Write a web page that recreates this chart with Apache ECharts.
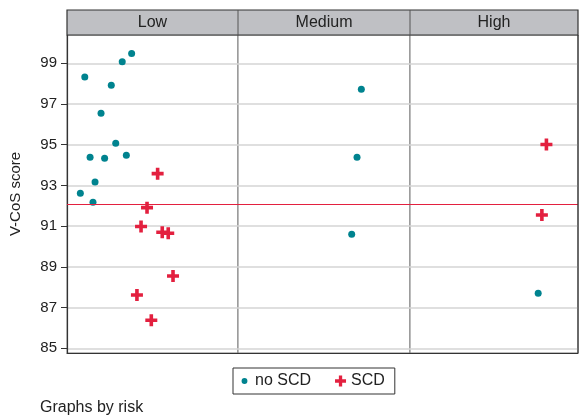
<!DOCTYPE html>
<html>
<head>
<meta charset="utf-8">
<script src="https://cdn.jsdelivr.net/npm/echarts@6/dist/echarts.min.js"></script>
<style>html,body{margin:0;padding:0;background:#fff}#c{width:579px;height:418px}</style>
</head>
<body>
<div id="c"></div>
<script>
const panels = ['Low', 'Medium', 'High'];
const yTicks = [85, 87, 89, 91, 93, 95, 97, 99];
const refLine = 92.08;

const lowNoScdX = [0.104, 0.378, 0.323, 0.259, 0.199, 0.285, 0.135, 0.220, 0.347, 0.164, 0.078, 0.152];
const lowNoScdY = [98.33, 99.48, 99.08, 97.92, 96.55, 95.07, 94.39, 94.34, 94.48, 93.17, 92.62, 92.17];
const lowScdX = [0.530, 0.468, 0.433, 0.557, 0.592, 0.620, 0.409, 0.493];
const lowScdY = [93.58, 91.91, 90.98, 90.70, 90.65, 88.55, 87.62, 86.38];
const medNoScdX = [0.717, 0.692, 0.661];
const medNoScdY = [97.73, 94.39, 90.60];
const medScdX = [];
const medScdY = [];
const highNoScdX = [0.763];
const highNoScdY = [87.70];
const highScdX = [0.812, 0.785];
const highScdY = [95.01, 91.55];

const noScd = [[lowNoScdX, lowNoScdY], [medNoScdX, medNoScdY], [highNoScdX, highNoScdY]];
const scd = [[lowScdX, lowScdY], [medScdX, medScdY], [highScdX, highScdY]];

const FONT = 'Liberation Sans, Arial, sans-serif';
const TEAL = '#00838f';
const RED = '#e3203f';
const PLUS = 'path://M4.2,0 H7.8 V4.2 H12 V7.8 H7.8 V12 H4.2 V7.8 H0 V4.2 H4.2 Z';
const SMALL_DOT = 'path://M0,0 L0.01,0 M12,12 L11.99,12 M6,2.8 A3.2,3.2 0 1 1 5.99,2.8 Z';

const gridPos = [
  {left: 67, width: 171},
  {left: 238, width: 172},
  {left: 410, width: 168}
];
const plotTop = 35, plotBottom = 353;

const zip = (xs, ys) => xs.map((x, i) => [x, ys[i]]);

const grids = [], xAxes = [], yAxes = [], series = [];
gridPos.forEach((g, i) => {
  grids.push({left: g.left, width: g.width, top: plotTop, height: plotBottom - plotTop,
    show: true, borderColor: '#7a7a7a', borderWidth: 1, backgroundColor: '#fff'});
  xAxes.push({type: 'value', gridIndex: i, min: 0, max: 1, show: true,
    axisLine: {show: true, lineStyle: {color: '#333', width: 1.2}},
    axisTick: {show: false}, axisLabel: {show: false}, splitLine: {show: false}});
  yAxes.push({type: 'value', gridIndex: i, min: 84.77, max: 100.39,
    axisLine: {show: i === 0, lineStyle: {color: '#333', width: 1.2}},
    axisTick: {show: i === 0, length: 6, inside: false, customValues: yTicks, lineStyle: {color: '#333'}},
    axisLabel: {show: i === 0, customValues: yTicks, color: '#222', fontSize: 15, fontFamily: FONT, margin: 10},
    splitLine: {show: true, lineStyle: {color: '#d4d4d4', width: 1.5}},
    name: i === 0 ? 'V-CoS score' : '', nameLocation: 'middle', nameGap: 44,
    nameTextStyle: {color: '#222', fontSize: 15, fontFamily: FONT}
  });
  series.push({
    name: 'no SCD', type: 'scatter', xAxisIndex: i, yAxisIndex: i,
    data: zip(noScd[i][0], noScd[i][1]),
    symbol: 'circle', symbolSize: 7, itemStyle: {color: TEAL, opacity: 1},
    markLine: {silent: true, symbol: 'none', label: {show: false},
      lineStyle: {color: RED, width: 1.2, type: 'solid', opacity: 1}, data: [{yAxis: refLine}]},
    z: 3
  });
  series.push({
    name: 'SCD', type: 'scatter', xAxisIndex: i, yAxisIndex: i,
    data: zip(scd[i][0], scd[i][1]),
    symbol: PLUS, symbolSize: 12, itemStyle: {color: RED, opacity: 1}, z: 3
  });
});

const graphics = [
  {type: 'rect', shape: {x: 67, y: 10, width: 511, height: 25},
   style: {fill: '#bfc0c4', stroke: '#333', lineWidth: 1.2}, z: 10},
  {type: 'line', shape: {x1: 238, y1: 10, x2: 238, y2: 35}, style: {stroke: '#555', lineWidth: 1}, z: 11},
  {type: 'line', shape: {x1: 410, y1: 10, x2: 410, y2: 35}, style: {stroke: '#555', lineWidth: 1}, z: 11},
  {type: 'line', shape: {x1: 578, y1: 35, x2: 578, y2: 353}, style: {stroke: '#333', lineWidth: 1.2}, z: 11}
];
panels.forEach((p, i) => {
  const g = gridPos[i];
  graphics.push({type: 'text', x: g.left + g.width / 2, y: 23, z: 12,
    style: {text: p, fill: '#222', font: '16px ' + FONT, textAlign: 'center', textVerticalAlign: 'middle'}});
});
graphics.push({type: 'text', x: 40, y: 408, z: 12,
  style: {text: 'Graphs by risk', fill: '#222', font: '16px ' + FONT, textAlign: 'left', textVerticalAlign: 'middle'}});

const chart = echarts.init(document.getElementById('c'), null, {renderer: 'canvas'});
chart.setOption({
  animation: false,
  backgroundColor: '#fff',
  grid: grids,
  xAxis: xAxes,
  yAxis: yAxes,
  series: series,
  legend: {
    data: [
      {name: 'no SCD', icon: SMALL_DOT, itemStyle: {color: TEAL, opacity: 1}},
      {name: 'SCD', icon: PLUS, itemStyle: {color: RED, opacity: 1}}
    ],
    left: 233, top: 368, orient: 'horizontal',
    itemWidth: 11, itemHeight: 11, itemGap: 24,
    borderColor: '#333', borderWidth: 1, padding: [5, 10, 5, 6],
    textStyle: {color: '#222', fontSize: 16, fontFamily: FONT},
    selectedMode: false
  },
  graphic: graphics
});
</script>
</body>
</html>
